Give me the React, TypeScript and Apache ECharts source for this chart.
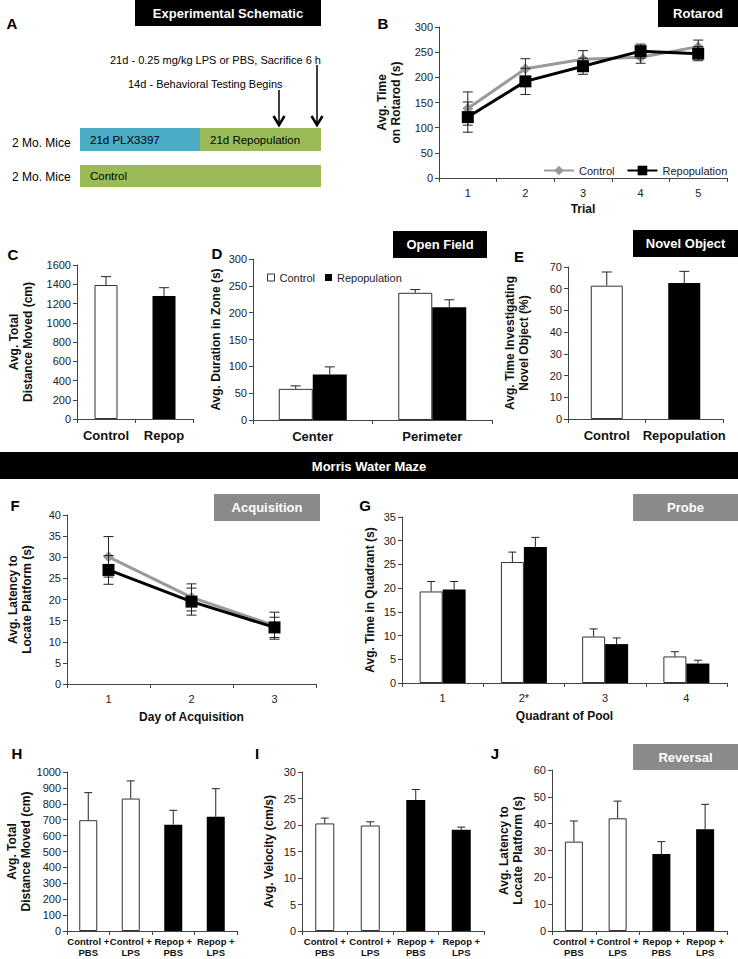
import React, { useEffect, useRef } from 'react';
import * as echarts from 'echarts';

const FONT = '"Liberation Sans", Arial, Helvetica, sans-serif';

// ---- B: Rotarod ----
const rotarodTrials = ['1', '2', '3', '4', '5'];
const rotarodControl = [138, 217, 236, 240, 261];
const rotarodControlErr = [33, 20, 17, 12, 13];
const rotarodRepop = [121, 192, 222, 252, 247];
const rotarodRepopErr = [30, 26, 16, 14, 14];

// ---- C: Open field total distance ----
const cCats = ['Control', 'Repop'];
const cValues = [1392, 1278];
const cErr = [87, 86];

// ---- D: Open field zones ----
const dCats = ['Center', 'Perimeter'];
const dControl = [58, 237];
const dControlErr = [5.6, 6];
const dRepop = [85, 210];
const dRepopErr = [14, 14];

// ---- E: Novel object ----
const eCats = ['Control', 'Repopulation'];
const eValues = [61.4, 62.6];
const eErr = [6.3, 5.4];

// ---- F: Acquisition ----
const fDays = ['1', '2', '3'];
const fControl = [30.1, 20.5, 13.8];
const fControlErr = [4.8, 3.2, 3.2];
const fRepop = [27.0, 19.5, 13.4];
const fRepopErr = [3.4, 3.2, 2.4];

// ---- G: Probe ----
const gCats = ['1', '2*', '3', '4'];
const gControl = [19.3, 25.5, 9.8, 5.6];
const gControlErr = [2.1, 2.1, 1.6, 1.0];
const gRepop = [19.7, 28.7, 8.2, 4.1];
const gRepopErr = [1.7, 2.0, 1.3, 0.7];

// ---- H, I, J ----
const hijCats = ['Control +\nPBS', 'Control +\nLPS', 'Repop +\nPBS', 'Repop +\nLPS'];
const hValues = [697, 833, 669, 718];
const hErr = [173, 111, 90, 177];
const iValues = [20.3, 19.9, 24.7, 19.1];
const iErr = [1.0, 0.7, 2.0, 0.5];
const jValues = [33.3, 42.0, 28.7, 37.9];
const jErr = [7.7, 6.4, 4.6, 9.3];

const AX = '#444';
const WHITE_BAR = { color: '#ffffff', borderColor: '#333', borderWidth: 1 };
const BLACK_BAR = { color: '#000000' };

function yAxis(gridIndex: number, max: number, interval: number, name: string, nameGap: number) {
  return {
    type: 'value', gridIndex, min: 0, max, interval,
    name, nameLocation: 'middle', nameRotate: 90, nameGap,
    nameTextStyle: { fontFamily: FONT, fontWeight: 'bold', fontSize: 12, color: '#111', lineHeight: 14 },
    axisLine: { show: true, lineStyle: { color: AX, width: 1 } },
    axisTick: { show: true, length: 4, lineStyle: { color: AX, width: 1 } },
    axisLabel: { fontFamily: FONT, fontSize: 11, color: '#222', margin: 6, formatter: (v: number) => String(v) },
    splitLine: { show: false },
  };
}

function xAxis(gridIndex: number, data: string[], label: any, name?: string, nameGap?: number) {
  return {
    type: 'category', gridIndex, data,
    name: name || '', nameLocation: 'middle', nameGap: nameGap || 26,
    nameTextStyle: { fontFamily: FONT, fontWeight: 'bold', fontSize: 12, color: '#111' },
    axisLine: { show: true, lineStyle: { color: AX, width: 1 } },
    axisTick: { show: true, length: 4, lineStyle: { color: AX, width: 1 } },
    axisLabel: Object.assign({ interval: 0, fontFamily: FONT, color: '#111' }, label),
    splitLine: { show: false },
  };
}

function errSeries(axisIndex: number, values: number[], errs: number[], offset: number, cap: number, both: boolean) {
  return {
    type: 'custom',
    xAxisIndex: axisIndex,
    yAxisIndex: axisIndex,
    z: 4,
    silent: true,
    data: values.map((v, i) => [i, v, errs[i]]),
    encode: { x: 0, y: 1 },
    renderItem: (params: any, api: any) => {
      const xi = api.value(0);
      const v = api.value(1);
      const e = api.value(2);
      const top = api.coord([xi, v + e]);
      const bot = api.coord([xi, both ? v - e : v]);
      const x = top[0] + offset;
      const st = { stroke: '#222', lineWidth: 1 };
      const children: any[] = [
        { type: 'line', shape: { x1: x, y1: bot[1], x2: x, y2: top[1] }, style: st },
        { type: 'line', shape: { x1: x - cap, y1: top[1], x2: x + cap, y2: top[1] }, style: st },
      ];
      if (both) children.push({ type: 'line', shape: { x1: x - cap, y1: bot[1], x2: x + cap, y2: bot[1] }, style: st });
      return { type: 'group', children };
    },
  };
}

function txt(text: string, x: number, y: number, size: number, opts: any = {}) {
  return {
    type: 'text', x, y, z: 10,
    style: {
      text, fill: opts.fill || '#000',
      font: `${opts.bold ? 'bold ' : ''}${size}px ${FONT}`,
      align: opts.align || 'left', verticalAlign: 'middle',
      textAlign: opts.align || 'left', textVerticalAlign: 'middle',
    },
  };
}

function box(text: string, x: number, y: number, w: number, h: number, fill: string) {
  return [
    { type: 'rect', shape: { x, y, width: w, height: h }, style: { fill }, z: 9 },
    txt(text, x + w / 2, y + h / 2, 13, { bold: true, fill: '#fff', align: 'center' }),
  ];
}

function arrow(x: number, y1: number, y2: number) {
  return [
    { type: 'line', shape: { x1: x, y1, x2: x, y2: y2 - 1 }, style: { stroke: '#000', lineWidth: 1.5 }, z: 10 },
    { type: 'polyline', shape: { points: [[x - 5.5, y2 - 9], [x, y2], [x + 5.5, y2 - 9]] }, style: { stroke: '#000', lineWidth: 2.5, fill: null }, z: 10 },
  ];
}

export default function App() {
  const ref = useRef<HTMLDivElement>(null);

  useEffect(() => {
    if (!ref.current) return;
    const chart = echarts.init(ref.current, undefined, { renderer: 'svg' });

    const grids = [
      { left: 439, top: 27, width: 288, height: 151 }, // B
      { left: 77, top: 265, width: 116, height: 154 }, // C
      { left: 253, top: 259, width: 239, height: 161 }, // D
      { left: 568, top: 267, width: 155, height: 152 }, // E
      { left: 67, top: 515, width: 249, height: 169 }, // F
      { left: 402, top: 517, width: 325, height: 166 }, // G
      { left: 67, top: 772, width: 170, height: 159 }, // H
      { left: 302, top: 772, width: 182, height: 159 }, // I
      { left: 552, top: 770, width: 175, height: 161 }, // J
    ];

    const smallLbl = { fontSize: 11, margin: 9, color: '#222' };
    const boldLbl = { fontSize: 13, fontWeight: 'bold', margin: 10 };
    const twoLbl = { fontSize: 9.5, fontWeight: 'bold', margin: 5, lineHeight: 11 };

    const xAxes = [
      xAxis(0, rotarodTrials, smallLbl, 'Trial', 25),
      xAxis(1, cCats, boldLbl),
      xAxis(2, dCats, boldLbl),
      xAxis(3, eCats, boldLbl),
      xAxis(4, fDays, smallLbl, 'Day of Acquisition', 27),
      xAxis(5, gCats, smallLbl, 'Quadrant of Pool', 27),
      xAxis(6, hijCats, twoLbl),
      xAxis(7, hijCats, twoLbl),
      xAxis(8, hijCats, twoLbl),
    ];

    const yAxes = [
      yAxis(0, 300, 50, 'Avg. Time\non Rotarod (s)', 36),
      yAxis(1, 1600, 200, 'Avg. Total\nDistance Moved (cm)', 42),
      yAxis(2, 300, 50, 'Avg. Duration in Zone (s)', 30),
      yAxis(3, 70, 10, 'Avg. Time Investigating\nNovel Object (%)', 37),
      yAxis(4, 40, 5, 'Avg. Latency to\nLocate Platform (s)', 33),
      yAxis(5, 35, 5, 'Avg. Time in Quadrant (s)', 25),
      yAxis(6, 1000, 100, 'Avg. Total\nDistance Moved (cm)', 34),
      yAxis(7, 30, 5, 'Avg. Velocity (cm/s)', 26),
      yAxis(8, 60, 10, 'Avg. Latency to\nLocate Platform (s)', 27),
    ];

    const twoColor = (vals: number[]) => vals.map((v, i) => ({ value: v, itemStyle: i === 0 ? WHITE_BAR : BLACK_BAR }));
    const fourColor = (vals: number[]) => vals.map((v, i) => ({ value: v, itemStyle: i < 2 ? WHITE_BAR : BLACK_BAR }));

    const GRAY = '#9a9a9a';
    const lineSeries = (name: string, idx: number, data: number[], gray: boolean) => ({
      type: 'line', name, xAxisIndex: idx, yAxisIndex: idx, data,
      symbol: gray ? 'diamond' : 'rect', symbolSize: gray ? 11 : 12,
      lineStyle: { color: gray ? GRAY : '#000', width: 3 },
      itemStyle: { color: gray ? GRAY : '#000' },
      z: gray ? 3 : 5,
    });

    const series: any[] = [
      // B
      errSeries(0, rotarodControl, rotarodControlErr, 0, 5, true),
      errSeries(0, rotarodRepop, rotarodRepopErr, 0, 5, true),
      lineSeries('Control', 0, rotarodControl, true),
      lineSeries('Repopulation', 0, rotarodRepop, false),
      // C
      { type: 'bar', name: 'C', xAxisIndex: 1, yAxisIndex: 1, barWidth: 23, data: twoColor(cValues) },
      errSeries(1, cValues, cErr, 0, 5, false),
      // D
      { type: 'bar', name: 'Control_D', xAxisIndex: 2, yAxisIndex: 2, barWidth: 34, barGap: '0%', data: dControl, itemStyle: WHITE_BAR },
      { type: 'bar', name: 'Repopulation_D', xAxisIndex: 2, yAxisIndex: 2, barWidth: 34, barGap: '0%', data: dRepop, itemStyle: BLACK_BAR },
      errSeries(2, dControl, dControlErr, -17, 5, false),
      errSeries(2, dRepop, dRepopErr, 17, 5, false),
      // E
      { type: 'bar', name: 'E', xAxisIndex: 3, yAxisIndex: 3, barWidth: 32, data: twoColor(eValues) },
      errSeries(3, eValues, eErr, 0, 5, false),
      // F
      errSeries(4, fControl, fControlErr, 0, 5, true),
      errSeries(4, fRepop, fRepopErr, 0, 5, true),
      lineSeries('Control_F', 4, fControl, true),
      lineSeries('Repop_F', 4, fRepop, false),
      // G
      { type: 'bar', name: 'Control_G', xAxisIndex: 5, yAxisIndex: 5, barWidth: 23, barGap: '0%', data: gControl, itemStyle: WHITE_BAR },
      { type: 'bar', name: 'Repop_G', xAxisIndex: 5, yAxisIndex: 5, barWidth: 23, barGap: '0%', data: gRepop, itemStyle: BLACK_BAR },
      errSeries(5, gControl, gControlErr, -11.5, 4, false),
      errSeries(5, gRepop, gRepopErr, 11.5, 4, false),
      // H
      { type: 'bar', name: 'H', xAxisIndex: 6, yAxisIndex: 6, barWidth: 18, data: fourColor(hValues) },
      errSeries(6, hValues, hErr, 0, 4, false),
      // I
      { type: 'bar', name: 'I', xAxisIndex: 7, yAxisIndex: 7, barWidth: 19, data: fourColor(iValues) },
      errSeries(7, iValues, iErr, 0, 4, false),
      // J
      { type: 'bar', name: 'J', xAxisIndex: 8, yAxisIndex: 8, barWidth: 18, data: fourColor(jValues) },
      errSeries(8, jValues, jErr, 0, 4, false),
    ];

    const legendText = { fontFamily: FONT, fontSize: 11, color: '#222' };

    const graphic: any[] = [
      // Panel letters
      txt('A', 12, 23, 15, { bold: true, align: 'center' }),
      txt('B', 383, 23, 15, { bold: true, align: 'center' }),
      txt('C', 13, 254, 15, { bold: true, align: 'center' }),
      txt('D', 217, 253, 15, { bold: true, align: 'center' }),
      txt('E', 519, 256, 15, { bold: true, align: 'center' }),
      txt('F', 15, 505, 15, { bold: true, align: 'center' }),
      txt('G', 365, 505, 15, { bold: true, align: 'center' }),
      txt('H', 17, 753, 15, { bold: true, align: 'center' }),
      txt('I', 257, 753, 15, { bold: true, align: 'center' }),
      txt('J', 495, 753, 15, { bold: true, align: 'center' }),
      // Title boxes
      ...box('Experimental Schematic', 135, 0, 186, 26, '#000'),
      ...box('Rotarod', 658, 0, 80, 27, '#000'),
      ...box('Open Field', 393, 231, 94, 27, '#000'),
      ...box('Novel Object', 633, 230, 105, 27, '#000'),
      ...box('Acquisition', 214, 494, 106, 27, '#8a8a8a'),
      ...box('Probe', 633, 494, 105, 27, '#8a8a8a'),
      ...box('Reversal', 633, 744, 105, 26, '#8a8a8a'),
      // Morris band
      { type: 'rect', shape: { x: 0, y: 452, width: 738, height: 27 }, style: { fill: '#000' }, z: 9 },
      txt('Morris Water Maze', 369, 466, 13, { bold: true, fill: '#fff', align: 'center' }),
      // Panel A schematic
      txt('21d - 0.25 mg/kg LPS or PBS, Sacrifice 6 h', 110, 60, 11),
      txt('14d - Behavioral Testing Begins', 128, 84, 11),
      ...arrow(279, 90, 125),
      ...arrow(317, 65, 125),
      { type: 'rect', shape: { x: 80, y: 128, width: 120, height: 23 }, style: { fill: '#4bacc6' }, z: 9 },
      { type: 'rect', shape: { x: 200, y: 128, width: 121, height: 23 }, style: { fill: '#9bbb59' }, z: 9 },
      { type: 'rect', shape: { x: 80, y: 165, width: 241, height: 22 }, style: { fill: '#9bbb59' }, z: 9 },
      txt('21d PLX3397', 90, 140, 11.5),
      txt('21d Repopulation', 210, 140, 11.5),
      txt('Control', 90, 176, 11.5),
      txt('2 Mo. Mice', 12, 143, 12),
      txt('2 Mo. Mice', 12, 177, 12),
    ];

    chart.setOption({
      animation: false,
      backgroundColor: '#ffffff',
      textStyle: { fontFamily: FONT },
      grid: grids,
      xAxis: xAxes,
      yAxis: yAxes,
      legend: [
        {
          left: 538, top: 160, itemWidth: 30, itemHeight: 12, itemGap: 12,
          selectedMode: false, data: ['Control', 'Repopulation'], textStyle: legendText,
        },
        {
          left: 262, top: 267, itemWidth: 7, itemHeight: 7, itemGap: 10,
          selectedMode: false,
          data: [
            { name: 'Control_D', icon: 'rect', itemStyle: WHITE_BAR },
            { name: 'Repopulation_D', icon: 'rect', itemStyle: BLACK_BAR },
          ],
          formatter: (n: string) => n.replace('_D', ''),
          textStyle: legendText,
        },
      ],
      series,
      graphic,
    });

    return () => chart.dispose();
  }, []);

  return <div ref={ref} style={{ position: 'absolute', left: 0, top: 0, width: 738, height: 959, background: '#fff' }} />;
}
